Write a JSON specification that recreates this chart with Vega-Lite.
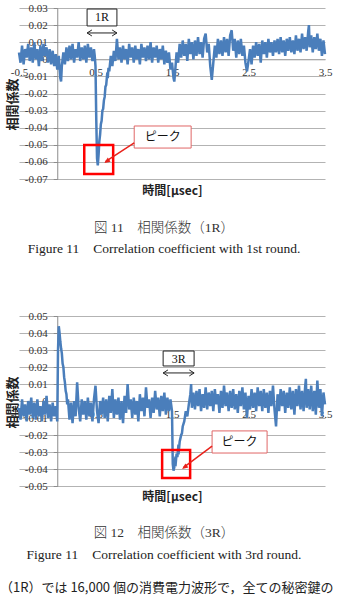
{
  "$schema": "https://vega.github.io/schema/vega-lite/v6.json",
  "padding": {"left": 0, "top": 2, "right": 0, "bottom": 0},
  "spacing": 54,
  "config": {
    "view": {"stroke": null},
    "axis": {"labelFont": "Liberation Serif", "labelFontSize": 11, "labelColor": "#333333", "titleColor": "#222222"}
  },
  "title": {"text": "（1R）では 16,000 個の消費電力波形で，全ての秘密鍵の", "orient": "bottom", "anchor": "start", "offset": 21, "dx": -6, "font": "Noto Sans CJK JP", "fontSize": 13, "fontWeight": "normal", "color": "#222222", "frame": "bounds"},
  "datasets": {
    "s1": [
      {"t":-0.50,"v":0.004},{"t":-0.48,"v":-0.002},{"t":-0.46,"v":0.008},{"t":-0.44,"v":-0.003},{"t":-0.42,"v":0.006},{"t":-0.40,"v":0.001},{"t":-0.38,"v":0.009},{"t":-0.36,"v":-0.001},{"t":-0.34,"v":0.007},{"t":-0.32,"v":-0.002},{"t":-0.30,"v":0.010},{"t":-0.28,"v":0.000},{"t":-0.26,"v":0.006},{"t":-0.24,"v":-0.004},{"t":-0.22,"v":0.008},{"t":-0.20,"v":-0.001},{"t":-0.18,"v":0.009},{"t":-0.16,"v":0.002},{"t":-0.14,"v":0.007},{"t":-0.12,"v":-0.002},{"t":-0.10,"v":0.006},{"t":-0.08,"v":-0.003},{"t":-0.06,"v":0.005},{"t":-0.04,"v":-0.004},{"t":-0.02,"v":0.003},
      {"t":0.00,"v":-0.006},{"t":0.02,"v":0.002},{"t":0.04,"v":-0.011},{"t":0.05,"v":-0.013},{"t":0.06,"v":-0.004},{"t":0.08,"v":0.004},{"t":0.10,"v":-0.003},{"t":0.12,"v":0.007},{"t":0.14,"v":-0.001},{"t":0.16,"v":0.008},{"t":0.18,"v":0.000},{"t":0.20,"v":0.009},{"t":0.22,"v":-0.002},{"t":0.24,"v":0.006},{"t":0.26,"v":0.001},{"t":0.28,"v":0.010},{"t":0.30,"v":-0.001},{"t":0.32,"v":0.007},{"t":0.34,"v":0.000},{"t":0.36,"v":0.008},{"t":0.38,"v":-0.002},{"t":0.40,"v":0.009},{"t":0.42,"v":0.001},{"t":0.44,"v":0.007},{"t":0.46,"v":-0.001},{"t":0.48,"v":0.006},{"t":0.49,"v":0.002},
      {"t":0.50,"v":-0.004},{"t":0.51,"v":-0.035},{"t":0.52,"v":-0.058},{"t":0.53,"v":-0.062},{"t":0.54,"v":-0.056},{"t":0.55,"v":-0.048},{"t":0.56,"v":-0.044},{"t":0.57,"v":-0.038},{"t":0.58,"v":-0.036},{"t":0.59,"v":-0.030},{"t":0.60,"v":-0.029},{"t":0.61,"v":-0.024},{"t":0.62,"v":-0.022},{"t":0.63,"v":-0.016},{"t":0.64,"v":-0.015},{"t":0.65,"v":-0.010},{"t":0.66,"v":-0.011},{"t":0.67,"v":-0.005},{"t":0.68,"v":-0.007},{"t":0.70,"v":0.002},{"t":0.72,"v":-0.004},{"t":0.74,"v":0.005},{"t":0.76,"v":-0.001},{"t":0.78,"v":0.012},
      {"t":0.80,"v":0.000},{"t":0.82,"v":0.007},{"t":0.84,"v":-0.002},{"t":0.86,"v":0.008},{"t":0.88,"v":0.000},{"t":0.90,"v":0.006},{"t":0.92,"v":-0.003},{"t":0.94,"v":0.009},{"t":0.96,"v":0.001},{"t":0.98,"v":0.007},{"t":1.00,"v":-0.002},{"t":1.02,"v":0.008},{"t":1.04,"v":0.000},{"t":1.06,"v":0.006},{"t":1.08,"v":-0.003},{"t":1.10,"v":0.009},{"t":1.12,"v":0.001},{"t":1.14,"v":0.007},{"t":1.16,"v":-0.001},{"t":1.18,"v":0.008},{"t":1.20,"v":0.000},{"t":1.22,"v":0.010},{"t":1.24,"v":-0.002},{"t":1.26,"v":0.007},{"t":1.28,"v":0.001},{"t":1.30,"v":0.008},{"t":1.32,"v":-0.002},{"t":1.34,"v":0.006},{"t":1.36,"v":0.000},{"t":1.38,"v":0.008},{"t":1.40,"v":-0.003},{"t":1.42,"v":0.005},{"t":1.44,"v":-0.002},{"t":1.46,"v":0.004},{"t":1.48,"v":-0.006},
      {"t":1.50,"v":-0.002},{"t":1.52,"v":-0.011},{"t":1.53,"v":-0.013},{"t":1.54,"v":-0.008},{"t":1.56,"v":0.004},{"t":1.58,"v":-0.002},{"t":1.60,"v":0.009},{"t":1.62,"v":0.001},{"t":1.64,"v":0.011},{"t":1.66,"v":0.002},{"t":1.68,"v":0.009},{"t":1.70,"v":-0.001},{"t":1.72,"v":0.012},{"t":1.74,"v":0.003},{"t":1.76,"v":0.010},{"t":1.78,"v":0.000},{"t":1.80,"v":0.011},{"t":1.82,"v":0.002},{"t":1.84,"v":0.013},{"t":1.86,"v":0.003},{"t":1.88,"v":0.010},{"t":1.90,"v":0.001},{"t":1.92,"v":0.012},{"t":1.94,"v":0.015},{"t":1.96,"v":0.004},{"t":1.98,"v":0.009},
      {"t":2.00,"v":-0.004},{"t":2.02,"v":-0.012},{"t":2.04,"v":-0.002},{"t":2.06,"v":0.008},{"t":2.08,"v":0.001},{"t":2.10,"v":0.012},{"t":2.12,"v":0.003},{"t":2.14,"v":0.011},{"t":2.16,"v":0.002},{"t":2.18,"v":0.013},{"t":2.20,"v":0.004},{"t":2.22,"v":0.012},{"t":2.24,"v":0.002},{"t":2.26,"v":0.014},{"t":2.28,"v":0.017},{"t":2.30,"v":0.005},{"t":2.32,"v":0.012},{"t":2.34,"v":0.001},{"t":2.36,"v":0.011},{"t":2.38,"v":0.003},{"t":2.40,"v":0.012},{"t":2.42,"v":0.002},{"t":2.44,"v":0.008},{"t":2.46,"v":-0.002},{"t":2.48,"v":-0.007},
      {"t":2.50,"v":-0.001},{"t":2.52,"v":0.006},{"t":2.54,"v":-0.003},{"t":2.56,"v":0.008},{"t":2.58,"v":0.001},{"t":2.60,"v":0.010},{"t":2.62,"v":0.002},{"t":2.64,"v":0.009},{"t":2.66,"v":-0.002},{"t":2.68,"v":0.011},{"t":2.70,"v":0.003},{"t":2.72,"v":0.010},{"t":2.74,"v":0.001},{"t":2.76,"v":0.012},{"t":2.78,"v":0.004},{"t":2.80,"v":0.010},{"t":2.82,"v":0.002},{"t":2.84,"v":0.011},{"t":2.86,"v":0.004},{"t":2.88,"v":0.012},{"t":2.90,"v":0.003},{"t":2.92,"v":0.013},{"t":2.94,"v":0.004},{"t":2.96,"v":0.011},{"t":2.98,"v":0.002},
      {"t":3.00,"v":0.012},{"t":3.02,"v":0.005},{"t":3.04,"v":0.013},{"t":3.06,"v":0.004},{"t":3.08,"v":0.011},{"t":3.10,"v":0.003},{"t":3.12,"v":0.014},{"t":3.14,"v":0.005},{"t":3.16,"v":0.012},{"t":3.18,"v":0.004},{"t":3.20,"v":0.015},{"t":3.22,"v":0.006},{"t":3.24,"v":0.013},{"t":3.26,"v":0.005},{"t":3.28,"v":0.016},{"t":3.29,"v":0.020},{"t":3.30,"v":0.007},{"t":3.32,"v":0.014},{"t":3.34,"v":0.004},{"t":3.36,"v":0.013},{"t":3.38,"v":0.006},{"t":3.40,"v":0.015},{"t":3.42,"v":0.005},{"t":3.44,"v":0.012},{"t":3.46,"v":0.002},{"t":3.48,"v":0.011},{"t":3.50,"v":0.003}
    ],
    "s2": [
      {"t":-0.50,"v":-0.004},{"t":-0.48,"v":-0.011},{"t":-0.46,"v":0.001},{"t":-0.44,"v":-0.009},{"t":-0.42,"v":-0.002},{"t":-0.40,"v":-0.012},{"t":-0.38,"v":0.000},{"t":-0.36,"v":-0.008},{"t":-0.34,"v":0.002},{"t":-0.32,"v":-0.010},{"t":-0.30,"v":-0.001},{"t":-0.28,"v":-0.011},{"t":-0.26,"v":0.001},{"t":-0.24,"v":-0.009},{"t":-0.22,"v":-0.003},{"t":-0.20,"v":-0.012},{"t":-0.18,"v":0.000},{"t":-0.16,"v":-0.008},{"t":-0.14,"v":0.003},{"t":-0.12,"v":-0.010},{"t":-0.10,"v":-0.002},{"t":-0.08,"v":-0.012},{"t":-0.06,"v":-0.001},{"t":-0.04,"v":-0.009},{"t":-0.02,"v":-0.003},
      {"t":0.00,"v":-0.012},{"t":0.01,"v":0.030},{"t":0.02,"v":0.044},{"t":0.03,"v":0.040},{"t":0.04,"v":0.035},{"t":0.05,"v":0.031},{"t":0.06,"v":0.028},{"t":0.07,"v":0.022},{"t":0.08,"v":0.020},{"t":0.09,"v":0.014},{"t":0.10,"v":0.011},{"t":0.11,"v":0.006},{"t":0.12,"v":0.004},{"t":0.13,"v":-0.002},{"t":0.14,"v":0.001},
      {"t":0.16,"v":-0.011},{"t":0.18,"v":-0.001},{"t":0.20,"v":-0.013},{"t":0.22,"v":0.000},{"t":0.24,"v":-0.009},{"t":0.26,"v":0.011},{"t":0.28,"v":-0.004},{"t":0.30,"v":-0.012},{"t":0.32,"v":0.001},{"t":0.34,"v":-0.008},{"t":0.36,"v":0.000},{"t":0.38,"v":-0.011},{"t":0.40,"v":0.002},{"t":0.42,"v":-0.009},{"t":0.44,"v":-0.001},{"t":0.46,"v":-0.012},{"t":0.48,"v":0.001},{"t":0.50,"v":0.009},{"t":0.52,"v":-0.006},{"t":0.54,"v":-0.013},{"t":0.56,"v":0.000},{"t":0.58,"v":-0.008},{"t":0.60,"v":0.002},{"t":0.62,"v":-0.010},{"t":0.64,"v":0.001},{"t":0.66,"v":-0.012},{"t":0.68,"v":0.003},{"t":0.70,"v":-0.007},{"t":0.72,"v":0.007},{"t":0.74,"v":-0.010},{"t":0.76,"v":0.001},{"t":0.78,"v":-0.008},{"t":0.80,"v":0.002},{"t":0.82,"v":-0.011},{"t":0.84,"v":0.000},{"t":0.86,"v":-0.013},{"t":0.88,"v":0.003},{"t":0.90,"v":-0.007},{"t":0.92,"v":0.010},{"t":0.94,"v":-0.005},{"t":0.96,"v":0.001},{"t":0.98,"v":-0.010},
      {"t":1.00,"v":0.002},{"t":1.02,"v":-0.008},{"t":1.04,"v":0.000},{"t":1.06,"v":-0.012},{"t":1.08,"v":0.004},{"t":1.10,"v":-0.006},{"t":1.12,"v":0.002},{"t":1.14,"v":-0.009},{"t":1.16,"v":0.008},{"t":1.18,"v":-0.004},{"t":1.20,"v":0.001},{"t":1.22,"v":-0.010},{"t":1.24,"v":0.002},{"t":1.26,"v":-0.007},{"t":1.28,"v":0.006},{"t":1.30,"v":-0.005},{"t":1.32,"v":0.002},{"t":1.34,"v":-0.009},{"t":1.36,"v":0.003},{"t":1.38,"v":-0.006},{"t":1.40,"v":0.005},{"t":1.42,"v":-0.008},{"t":1.44,"v":0.002},{"t":1.46,"v":-0.006},{"t":1.48,"v":0.001},
      {"t":1.50,"v":-0.006},{"t":1.51,"v":-0.037},{"t":1.52,"v":-0.041},{"t":1.53,"v":-0.039},{"t":1.54,"v":-0.035},{"t":1.55,"v":-0.036},{"t":1.56,"v":-0.031},{"t":1.57,"v":-0.033},{"t":1.58,"v":-0.028},{"t":1.59,"v":-0.029},{"t":1.60,"v":-0.024},{"t":1.62,"v":-0.020},{"t":1.63,"v":-0.019},{"t":1.64,"v":-0.015},{"t":1.66,"v":-0.012},{"t":1.68,"v":-0.006},{"t":1.70,"v":-0.009},{"t":1.72,"v":-0.002},{"t":1.74,"v":0.004},{"t":1.75,"v":0.010},{"t":1.76,"v":-0.004},{"t":1.78,"v":0.005},{"t":1.80,"v":-0.005},{"t":1.82,"v":0.006},{"t":1.84,"v":-0.003},{"t":1.86,"v":0.007},{"t":1.88,"v":-0.006},{"t":1.90,"v":0.004},{"t":1.92,"v":-0.004},{"t":1.94,"v":0.008},{"t":1.96,"v":-0.005},{"t":1.98,"v":0.005},
      {"t":2.00,"v":-0.003},{"t":2.02,"v":0.006},{"t":2.04,"v":-0.006},{"t":2.06,"v":0.007},{"t":2.08,"v":-0.002},{"t":2.10,"v":0.004},{"t":2.12,"v":-0.007},{"t":2.14,"v":0.006},{"t":2.16,"v":-0.004},{"t":2.18,"v":0.009},{"t":2.20,"v":-0.003},{"t":2.22,"v":0.005},{"t":2.24,"v":-0.006},{"t":2.26,"v":0.006},{"t":2.28,"v":-0.004},{"t":2.30,"v":0.007},{"t":2.32,"v":-0.005},{"t":2.34,"v":0.004},{"t":2.36,"v":-0.007},{"t":2.38,"v":0.006},{"t":2.40,"v":-0.003},{"t":2.42,"v":0.008},{"t":2.44,"v":-0.005},{"t":2.46,"v":0.005},{"t":2.48,"v":-0.010},
      {"t":2.50,"v":0.003},{"t":2.52,"v":-0.005},{"t":2.54,"v":0.007},{"t":2.56,"v":-0.004},{"t":2.58,"v":0.005},{"t":2.60,"v":-0.006},{"t":2.62,"v":0.008},{"t":2.64,"v":-0.003},{"t":2.66,"v":0.006},{"t":2.68,"v":-0.006},{"t":2.70,"v":0.007},{"t":2.72,"v":-0.004},{"t":2.74,"v":0.005},{"t":2.76,"v":-0.007},{"t":2.78,"v":0.006},{"t":2.80,"v":-0.003},{"t":2.82,"v":0.009},{"t":2.84,"v":-0.005},{"t":2.86,"v":-0.015},{"t":2.88,"v":0.004},{"t":2.90,"v":-0.006},{"t":2.92,"v":0.007},{"t":2.94,"v":-0.003},{"t":2.96,"v":0.006},{"t":2.98,"v":-0.007},
      {"t":3.00,"v":0.005},{"t":3.02,"v":-0.004},{"t":3.04,"v":0.008},{"t":3.06,"v":-0.005},{"t":3.08,"v":0.006},{"t":3.10,"v":-0.008},{"t":3.12,"v":0.007},{"t":3.14,"v":-0.003},{"t":3.16,"v":0.009},{"t":3.18,"v":-0.005},{"t":3.20,"v":0.006},{"t":3.22,"v":-0.006},{"t":3.24,"v":0.008},{"t":3.25,"v":0.013},{"t":3.26,"v":-0.004},{"t":3.28,"v":0.007},{"t":3.30,"v":-0.005},{"t":3.32,"v":0.009},{"t":3.34,"v":-0.006},{"t":3.36,"v":0.006},{"t":3.38,"v":-0.008},{"t":3.40,"v":0.012},{"t":3.42,"v":-0.004},{"t":3.44,"v":0.007},{"t":3.46,"v":-0.009},{"t":3.48,"v":0.005},{"t":3.50,"v":-0.002}
    ]
  },
  "vconcat": [
    {
      "width": 306,
      "height": 171,
      "title": {"text": "図 11　相関係数（1R）", "subtitle": "Figure 11　Correlation coefficient with 1st round.", "orient": "bottom", "anchor": "middle", "frame": "group", "offset": 24, "dx": -8, "font": "Liberation Serif, Noto Sans CJK JP", "fontSize": 13.5, "fontWeight": 300, "color": "#333333", "subtitleFont": "Liberation Serif", "subtitleFontSize": 13.5, "subtitleColor": "#222222", "subtitlePadding": 8},
      "encoding": {
        "x": {"field": "t", "type": "quantitative", "scale": {"domain": [-0.5, 3.5], "nice": false, "zero": false},
          "axis": {"values": [-0.5, 0.5, 1.5, 2.5, 3.5], "offset": -119.7, "grid": false, "ticks": false, "domain": true, "domainColor": "#a6a6a6", "labelPadding": 7, "labelOverlap": false, "labelFlush": false, "labelBound": false, "labelExpr": "replace(format(datum.value, '.1f'), '−', '-')",
            "title": "時間[μsec]", "titleFont": "Noto Sans CJK JP", "titleFontSize": 12, "titleFontWeight": "bold", "titleX": 153, "titleY": 131.5, "titleBaseline": "middle", "titleAlign": "center", "titleAngle": 0}},
        "y": {"field": "v", "type": "quantitative", "scale": {"domain": [-0.07, 0.03], "nice": false, "zero": false},
          "axis": {"values": [-0.07, -0.06, -0.05, -0.04, -0.03, -0.02, -0.01, 0, 0.01, 0.02, 0.03], "offset": -38.25, "grid": true, "gridColor": "#b3b3b3", "domainColor": "#8c8c8c", "tickColor": "#8c8c8c", "tickSize": 4, "labelPadding": 6, "labelOverlap": false, "labelFlush": false, "labelBound": false, "labelExpr": "datum.value == 0 ? '0' : replace(format(datum.value, '.2f'), '−', '-')",
            "title": "相関係数", "titleFont": "Noto Sans CJK JP", "titleFontSize": 13, "titleFontWeight": "bold", "titleAngle": 270, "titleX": -45.25, "titleY": 96, "titleBaseline": "middle", "titleAlign": "center"}}
      },
      "layer": [
        {"data": {"name": "s1"}, "mark": {"type": "line", "stroke": "#4a7ebb", "strokeWidth": 2.5}},
        {"data": {"values": [{"t": 0.39, "t2": 0.78, "v": 0.0294, "v2": 0.0195}]}, "mark": {"type": "rect", "fill": "white", "stroke": "#222222", "strokeWidth": 1}, "encoding": {"x2": {"field": "t2"}, "y2": {"field": "v2"}}},
        {"data": {"values": [{"t": 0.585, "v": 0.0245, "label": "1R"}]}, "mark": {"type": "text", "font": "Liberation Serif", "fontSize": 12, "color": "#111111", "baseline": "middle", "align": "center"}, "encoding": {"text": {"field": "label"}}},
        {"data": {"values": [{"t": 0.39, "t2": 0.78, "v": 0.0154}]}, "mark": {"type": "rule", "stroke": "#222222", "strokeWidth": 1}, "encoding": {"x2": {"field": "t2"}}},
        {"data": {"values": [{"t": 0.39, "v": 0.0154}]}, "mark": {"type": "point", "shape": "M0,0L1.6,-1M0,0L1.6,1", "filled": false, "stroke": "#222222", "strokeWidth": 1, "size": 36, "opacity": 1}},
        {"data": {"values": [{"t": 0.78, "v": 0.0154}]}, "mark": {"type": "point", "shape": "M0,0L-1.6,-1M0,0L-1.6,1", "filled": false, "stroke": "#222222", "strokeWidth": 1, "size": 36, "opacity": 1}},
        {"data": {"values": [{"t": 0.353, "t2": 0.731, "v": -0.0501, "v2": -0.0671}]}, "mark": {"type": "rect", "fill": null, "fillOpacity": 0, "stroke": "#ff0000", "strokeWidth": 2.5}, "encoding": {"x2": {"field": "t2"}, "y2": {"field": "v2"}}},
        {"data": {"values": [{"t": 1.006, "t2": 1.75, "v": -0.039, "v2": -0.0519}]}, "mark": {"type": "rect", "fill": "white", "stroke": "#e06666", "strokeWidth": 1}, "encoding": {"x2": {"field": "t2"}, "y2": {"field": "v2"}}},
        {"data": {"values": [{"t": 1.378, "v": -0.0454, "label": "ピーク"}]}, "mark": {"type": "text", "font": "Noto Sans CJK JP", "fontSize": 12, "color": "#111111", "baseline": "middle", "align": "center"}, "encoding": {"text": {"field": "label"}}},
        {"data": {"values": [{"t": 1.006, "v": -0.0489, "t2": 0.63, "v2": -0.0598}]}, "mark": {"type": "rule", "stroke": "#e8221b", "strokeWidth": 1.5}, "encoding": {"x2": {"field": "t2"}, "y2": {"field": "v2"}}},
        {"data": {"values": [{"t": 0.614, "v": -0.0606}]}, "mark": {"type": "point", "shape": "M0,0L-1,2.4L1,2.4Z", "filled": true, "fill": "#e8221b", "strokeWidth": 0, "size": 25, "angle": 236, "opacity": 1}}
      ]
    },
    {
      "width": 306,
      "height": 170,
      "title": {"text": "図 12　相関係数（3R）", "subtitle": "Figure 11　Correlation coefficient with 3rd round.", "orient": "bottom", "anchor": "middle", "frame": "group", "offset": 24, "dx": -8, "font": "Liberation Serif, Noto Sans CJK JP", "fontSize": 13.5, "fontWeight": 300, "color": "#333333", "subtitleFont": "Liberation Serif", "subtitleFontSize": 13.5, "subtitleColor": "#222222", "subtitlePadding": 8},
      "encoding": {
        "x": {"field": "t", "type": "quantitative", "scale": {"domain": [-0.5, 3.5], "nice": false, "zero": false},
          "axis": {"values": [-0.5, 0.5, 1.5, 2.5, 3.5], "offset": -85, "grid": false, "ticks": false, "domain": true, "domainColor": "#a6a6a6", "labelPadding": 7, "labelOverlap": false, "labelFlush": false, "labelBound": false, "labelExpr": "replace(format(datum.value, '.1f'), '−', '-')",
            "title": "時間[μsec]", "titleFont": "Noto Sans CJK JP", "titleFontSize": 12, "titleFontWeight": "bold", "titleX": 153, "titleY": 95, "titleBaseline": "middle", "titleAlign": "center", "titleAngle": 0}},
        "y": {"field": "v", "type": "quantitative", "scale": {"domain": [-0.05, 0.05], "nice": false, "zero": false},
          "axis": {"values": [-0.05, -0.04, -0.03, -0.02, -0.01, 0, 0.01, 0.02, 0.03, 0.04, 0.05], "offset": -38.25, "grid": true, "gridColor": "#b3b3b3", "domainColor": "#8c8c8c", "tickColor": "#8c8c8c", "tickSize": 4, "labelPadding": 6, "labelOverlap": false, "labelFlush": false, "labelBound": false, "labelExpr": "datum.value == 0 ? '0' : replace(format(datum.value, '.2f'), '−', '-')",
            "title": "相関係数", "titleFont": "Noto Sans CJK JP", "titleFontSize": 13, "titleFontWeight": "bold", "titleAngle": 270, "titleX": -45.25, "titleY": 86, "titleBaseline": "middle", "titleAlign": "center"}}
      },
      "layer": [
        {"data": {"name": "s2"}, "mark": {"type": "line", "stroke": "#4a7ebb", "strokeWidth": 2.5}},
        {"data": {"values": [{"t": 1.384, "t2": 1.789, "v": 0.0294, "v2": 0.0206}]}, "mark": {"type": "rect", "fill": "white", "stroke": "#222222", "strokeWidth": 1}, "encoding": {"x2": {"field": "t2"}, "y2": {"field": "v2"}}},
        {"data": {"values": [{"t": 1.587, "v": 0.025, "label": "3R"}]}, "mark": {"type": "text", "font": "Liberation Serif", "fontSize": 12, "color": "#111111", "baseline": "middle", "align": "center"}, "encoding": {"text": {"field": "label"}}},
        {"data": {"values": [{"t": 1.384, "t2": 1.789, "v": 0.0165}]}, "mark": {"type": "rule", "stroke": "#222222", "strokeWidth": 1}, "encoding": {"x2": {"field": "t2"}}},
        {"data": {"values": [{"t": 1.384, "v": 0.0165}]}, "mark": {"type": "point", "shape": "M0,0L1.6,-1M0,0L1.6,1", "filled": false, "stroke": "#222222", "strokeWidth": 1, "size": 36, "opacity": 1}},
        {"data": {"values": [{"t": 1.789, "v": 0.0165}]}, "mark": {"type": "point", "shape": "M0,0L-1.6,-1M0,0L-1.6,1", "filled": false, "stroke": "#222222", "strokeWidth": 1, "size": 36, "opacity": 1}},
        {"data": {"values": [{"t": 1.371, "t2": 1.737, "v": -0.0288, "v2": -0.0453}]}, "mark": {"type": "rect", "fill": null, "fillOpacity": 0, "stroke": "#ff0000", "strokeWidth": 2.5}, "encoding": {"x2": {"field": "t2"}, "y2": {"field": "v2"}}},
        {"data": {"values": [{"t": 2.024, "t2": 2.743, "v": -0.0176, "v2": -0.0306}]}, "mark": {"type": "rect", "fill": "white", "stroke": "#e06666", "strokeWidth": 1}, "encoding": {"x2": {"field": "t2"}, "y2": {"field": "v2"}}},
        {"data": {"values": [{"t": 2.383, "v": -0.0241, "label": "ピーク"}]}, "mark": {"type": "text", "font": "Noto Sans CJK JP", "fontSize": 12, "color": "#111111", "baseline": "middle", "align": "center"}, "encoding": {"text": {"field": "label"}}},
        {"data": {"values": [{"t": 2.024, "v": -0.0265, "t2": 1.648, "v2": -0.0392}]}, "mark": {"type": "rule", "stroke": "#e8221b", "strokeWidth": 1.5}, "encoding": {"x2": {"field": "t2"}, "y2": {"field": "v2"}}},
        {"data": {"values": [{"t": 1.632, "v": -0.04}]}, "mark": {"type": "point", "shape": "M0,0L-1,2.4L1,2.4Z", "filled": true, "fill": "#e8221b", "strokeWidth": 0, "size": 25, "angle": 233, "opacity": 1}}
      ]
    }
  ]
}
